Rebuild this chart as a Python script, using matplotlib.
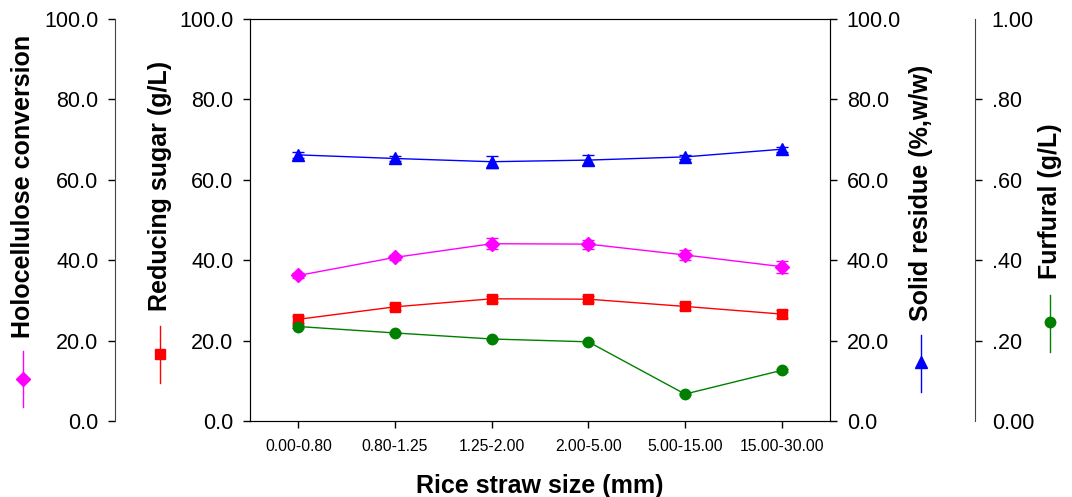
import numpy as np
import matplotlib
matplotlib.use("Agg")
from matplotlib import pyplot as plt
from matplotlib.lines import Line2D
from matplotlib.ticker import FuncFormatter

plt.rcParams['font.family'] = ['Liberation Sans', 'DejaVu Sans']

sizes = ['0.00-0.80', '0.80-1.25', '1.25-2.00', '2.00-5.00', '5.00-15.00', '15.00-30.00']

holocellulose = [36.2, 40.7, 44.1, 44.0, 41.3, 38.4]
holocellulose_err = [0.6, 0.7, 1.3, 1.1, 1.3, 1.5]

sugar = [25.3, 28.4, 30.4, 30.3, 28.5, 26.6]
sugar_err = [0.8, 0.7, 0.8, 0.8, 0.8, 0.9]

residue = [66.2, 65.3, 64.5, 64.9, 65.7, 67.6]
residue_err = [0.8, 0.7, 1.5, 1.3, 0.5, 0.6]

furfural = [0.235, 0.219, 0.204, 0.197, 0.067, 0.126]
furfural_err = [0.003, 0.003, 0.003, 0.003, 0.003, 0.003]

W, H = 1072, 497
fig = plt.figure(figsize=(W / 100, H / 100), dpi=100)
ax = fig.add_axes([250 / W, 1 - 421 / H, 580 / W, 402 / H])
ax_res = ax.twinx()
ax_holo = ax.twinx()
ax_fur = ax.twinx()

x = np.arange(len(sizes))
spine_col = '#444444'
tick_kw = dict(direction='out', length=5, width=1, pad=7, labelsize=15.5, colors='black')


def series(a, y, err, color, marker, ms):
    a.errorbar(x, y, yerr=err, color=color, marker=marker, ms=ms, lw=1,
               capsize=4.5, capthick=1, elinewidth=1, clip_on=False, zorder=3)


series(ax_holo, holocellulose, holocellulose_err, '#ff00ff', 'D', 7)
series(ax, sugar, sugar_err, '#ff0000', 's', 7.5)
series(ax_res, residue, residue_err, '#0000ff', '^', 8.5)
series(ax_fur, furfural, furfural_err, '#008000', 'o', 7.5)

ax.set_xlim(-0.5, 5.5)
ax.set_xticks(x)
ax.set_xticklabels(sizes, fontsize=11.3)
ax.tick_params(axis='x', direction='out', length=5, width=1, pad=8)
ax.set_xlabel('Rice straw size (mm)', fontsize=18, fontweight='bold', labelpad=14)

one_dec = FuncFormatter(lambda v, p: f"{v:.1f}")
for a in (ax, ax_res, ax_holo):
    a.set_ylim(0, 100)
    a.set_yticks(np.arange(0, 101, 20))
    a.yaxis.set_major_formatter(one_dec)
for sp in ax.spines.values():
    sp.set_color(spine_col)

ax.tick_params(axis='y', **tick_kw)
ax_res.tick_params(axis='y', **tick_kw)

# outer left axis for conversion
ax_holo.yaxis.set_ticks_position('left')
ax_holo.yaxis.set_label_position('left')
ax_holo.spines['left'].set_position(('axes', (115 - 250) / 580))
ax_holo.spines['left'].set_color(spine_col)
for s in ('top', 'right', 'bottom'):
    ax_holo.spines[s].set_visible(False)
ax_holo.tick_params(axis='y', **tick_kw)

# outer right axis for furfural
ax_fur.set_ylim(0, 1)
ax_fur.set_yticks(np.arange(0, 1.01, 0.2))
ax_fur.yaxis.set_major_formatter(FuncFormatter(
    lambda v, p: f"{v:.2f}" if v < 0.01 or v > 0.99 else f"{v:.2f}"[1:]))
ax_fur.spines['right'].set_position(('axes', (975 - 250) / 580))
ax_fur.spines['right'].set_color(spine_col)
for s in ('top', 'left', 'bottom'):
    ax_fur.spines[s].set_visible(False)
ax_fur.tick_params(axis='y', **tick_kw)
fur_ticks = ax_fur.yaxis.get_major_ticks()
fur_ticks[0].tick2line.set_visible(False)
fur_ticks[-1].tick2line.set_visible(False)

# axis titles with their series keys
labels = [
    ('Holocellulose conversion', 23, 186, '#ff00ff', 'D', 7, 351, 407, 379),
    ('Reducing sugar (g/L)', 160, 186, '#ff0000', 's', 7.5, 326, 383, 354),
    ('Solid residue (%,w/w)', 921, 193, '#0000ff', '^', 8.5, 335, 392, 362),
    ('Furfural (g/L)', 1050, 201, '#008000', 'o', 7.5, 295, 352, 322),
]
for text, lx, ly, col, mk, ms, y0, y1, ym in labels:
    fig.text(lx / W, 1 - ly / H, text, rotation=90, ha='center', va='center',
             fontsize=18, fontweight='bold')
    fig.add_artist(Line2D([lx / W, lx / W], [1 - y0 / H, 1 - y1 / H],
                          color=col, lw=1, transform=fig.transFigure))
    fig.add_artist(Line2D([lx / W], [1 - ym / H], color=col, marker=mk, ms=ms,
                          lw=0, transform=fig.transFigure))

fig.savefig('out.png', dpi=100)
